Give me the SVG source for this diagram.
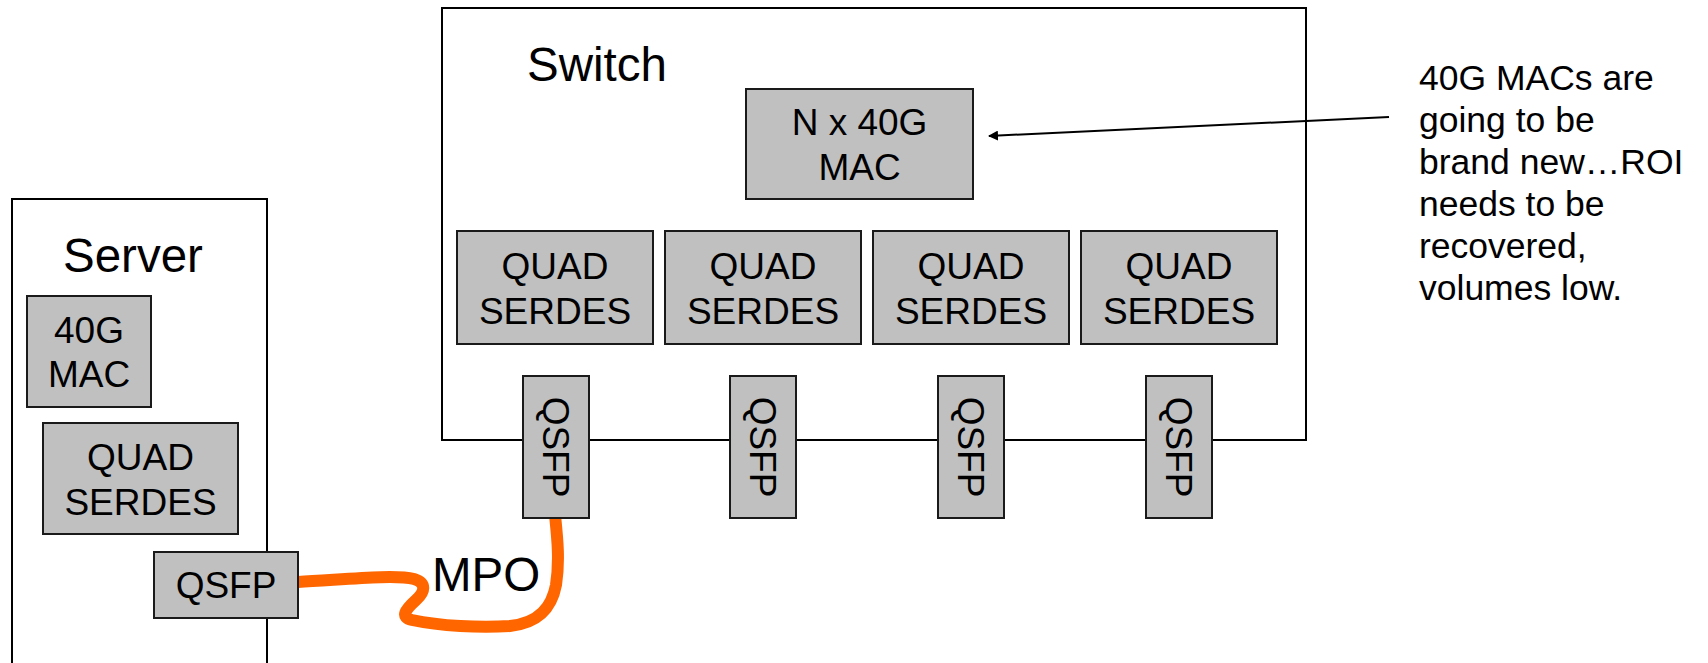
<svg xmlns="http://www.w3.org/2000/svg" width="1708" height="663" viewBox="0 0 1708 663">
<defs>
<style>
.frame{fill:#fff;stroke:#000;stroke-width:2}
.blk{fill:#c0c0c0;stroke:#1a1a1a;stroke-width:2}
.t{font-family:"Liberation Sans",Arial,sans-serif;font-size:37px;fill:#000;text-anchor:middle}
.big{font-family:"Liberation Sans",Arial,sans-serif;font-size:47.5px;fill:#000}
.note{font-family:"Liberation Sans",Arial,sans-serif;font-size:35.5px;fill:#000}
</style>
<marker id="ah" viewBox="0 0 10 10" refX="9" refY="5" markerWidth="10" markerHeight="10" markerUnits="userSpaceOnUse" orient="auto">
<path d="M0,0 L10,5 L0,10 z" fill="#000"/>
</marker>
</defs>
<rect width="1708" height="663" fill="#fff"/>
<g id="server">
<rect class="frame" x="12" y="199" width="255" height="520"/>
<text class="big" x="63" y="272">Server</text>
</g>
<g id="switch">
<rect class="frame" x="442" y="8" width="864" height="432"/>
<text class="big" x="527" y="81">Switch</text>
</g>
<g id="connectors">
<path d="M298 582 C340 580,394 574,414 579 C427 583,425 592,416 600 C405 610,400 617,412 620 C440 626,480 628,510 626 C540 623,552 606,556 585 C560 560,557 535,555 515" fill="none" stroke="#ff6600" stroke-width="12"/>
<line x1="1389" y1="117" x2="989" y2="136" stroke="#000" stroke-width="2" marker-end="url(#ah)"/>
</g>
<g id="server-mac">
<rect class="blk" x="27" y="296" width="124" height="111"/>
<text class="t" x="89" y="343">40G</text>
<text class="t" x="89" y="387">MAC</text>
</g>
<g id="server-serdes">
<rect class="blk" x="43" y="423" width="195" height="111"/>
<text class="t" x="140.5" y="470">QUAD</text>
<text class="t" x="140.5" y="515">SERDES</text>
</g>
<g id="server-qsfp">
<rect class="blk" x="154" y="552" width="144" height="66"/>
<text class="t" x="226" y="598">QSFP</text>
</g>
<g id="switch-mac">
<rect class="blk" x="746" y="89" width="227" height="110"/>
<text class="t" x="859.5" y="135">N x 40G</text>
<text class="t" x="859.5" y="180">MAC</text>
</g>
<g id="serdes1">
<rect class="blk" x="457" y="231" width="196" height="113"/>
<text class="t" x="555" y="279">QUAD</text>
<text class="t" x="555" y="324">SERDES</text>
</g>
<g id="serdes2">
<rect class="blk" x="665" y="231" width="196" height="113"/>
<text class="t" x="763" y="279">QUAD</text>
<text class="t" x="763" y="324">SERDES</text>
</g>
<g id="serdes3">
<rect class="blk" x="873" y="231" width="196" height="113"/>
<text class="t" x="971" y="279">QUAD</text>
<text class="t" x="971" y="324">SERDES</text>
</g>
<g id="serdes4">
<rect class="blk" x="1081" y="231" width="196" height="113"/>
<text class="t" x="1179" y="279">QUAD</text>
<text class="t" x="1179" y="324">SERDES</text>
</g>
<g id="qsfp1">
<rect class="blk" x="523" y="376" width="66" height="142"/>
<text class="t" transform="translate(556,447) rotate(90)" x="0" y="13">QSFP</text>
</g>
<g id="qsfp2">
<rect class="blk" x="730" y="376" width="66" height="142"/>
<text class="t" transform="translate(763,447) rotate(90)" x="0" y="13">QSFP</text>
</g>
<g id="qsfp3">
<rect class="blk" x="938" y="376" width="66" height="142"/>
<text class="t" transform="translate(971,447) rotate(90)" x="0" y="13">QSFP</text>
</g>
<g id="qsfp4">
<rect class="blk" x="1146" y="376" width="66" height="142"/>
<text class="t" transform="translate(1179,447) rotate(90)" x="0" y="13">QSFP</text>
</g>
<g id="mpo-label">
<text class="big" x="432" y="591">MPO</text>
</g>
<g id="note">
<text class="note" x="1419" y="90">40G MACs are</text>
<text class="note" x="1419" y="132">going to be</text>
<text class="note" x="1419" y="174">brand new…ROI</text>
<text class="note" x="1419" y="216">needs to be</text>
<text class="note" x="1419" y="258">recovered,</text>
<text class="note" x="1419" y="300">volumes low.</text>
</g>
</svg>
